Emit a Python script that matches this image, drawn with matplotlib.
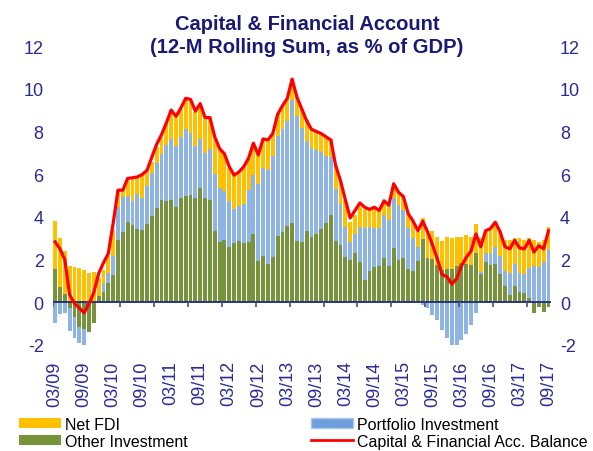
import matplotlib
matplotlib.use("Agg")
import matplotlib.pyplot as plt
import numpy as np
from matplotlib.patches import Patch
from matplotlib.lines import Line2D

plt.rcParams['font.family'] = ['Liberation Sans', 'DejaVu Sans']

# ---- data (12-M rolling sums, % of GDP), monthly Mar 2009 .. Sep 2017 ----
other = [1.56,0.73,0.40,-0.28,-0.67,-1.17,-1.25,-1.40,-0.95,0.30,
         0.50,0.92,1.30,2.90,3.30,3.75,3.60,3.45,3.40,3.65,
         4.05,4.42,4.81,4.74,4.81,4.47,4.89,4.98,5.02,4.89,
         5.37,4.86,4.81,3.36,2.83,2.90,2.60,2.76,2.87,2.79,
         2.80,3.18,1.93,2.18,1.79,2.10,3.10,3.30,3.57,3.69,
         2.87,2.83,3.33,3.04,3.22,3.43,3.69,4.11,2.87,2.68,
         2.10,1.98,2.29,1.87,1.04,1.46,1.64,1.71,2.09,1.70,
         2.52,2.00,2.06,1.56,1.46,1.93,2.96,2.09,2.02,1.74,
         1.50,1.56,1.56,1.71,1.82,1.78,1.74,2.29,1.31,1.90,
         1.74,1.78,1.31,0.78,0.34,0.78,0.47,0.42,0.22,-0.50,
         -0.20,-0.45,-0.20]

portfolio = [-0.95,-0.55,-0.51,-1.06,-1.01,-0.75,-0.75,0.00,0.00,0.00,
             0.40,0.45,0.85,1.55,1.65,1.25,1.15,1.60,1.50,1.80,
             2.02,2.08,2.12,2.61,2.85,2.85,2.85,3.15,2.92,2.43,
             2.26,2.15,2.36,2.67,2.53,2.30,2.14,1.63,1.65,1.81,
             2.45,2.80,3.63,4.11,4.39,4.75,4.69,4.80,4.90,5.76,
             5.85,5.33,4.21,4.19,3.90,3.61,3.16,2.70,2.43,1.92,
             1.44,0.85,0.93,1.67,2.45,2.08,1.86,1.78,1.99,2.15,
             2.34,2.55,2.25,1.94,1.53,0.67,-0.15,-0.25,-0.60,-0.85,
             -1.30,-1.65,-2.05,-2.10,-1.75,-1.50,-1.05,-0.50,0.12,0.39,
             0.50,0.82,0.86,0.68,1.02,1.00,0.89,0.89,1.37,1.71,
             1.67,1.87,2.45]

fdi = [2.24,2.27,2.01,1.71,1.64,1.62,1.51,1.36,1.43,0.82,
       0.60,0.80,1.25,0.80,0.35,0.70,1.00,0.80,1.05,0.70,
       0.50,0.77,0.81,1.01,1.33,1.31,1.33,1.43,1.51,1.59,
       1.67,1.62,1.46,1.67,1.84,1.75,1.56,1.56,1.53,1.75,
       1.48,1.45,1.32,1.37,1.44,1.05,1.04,1.12,1.06,1.02,
       0.89,0.91,0.98,0.90,0.88,0.86,0.89,0.82,1.10,1.07,
       1.24,0.94,0.86,0.93,0.90,0.77,0.94,0.82,0.66,0.70,
       0.70,0.62,0.69,0.66,0.78,0.70,1.00,1.21,1.31,1.33,
       1.37,1.51,1.43,1.36,1.25,1.37,1.33,1.37,1.59,1.01,
       1.14,1.01,1.16,1.45,1.55,1.21,1.63,1.60,1.40,1.20,
       1.13,1.04,1.09]

balance = [2.83,2.50,2.00,0.35,-0.05,-0.27,-0.49,-0.08,0.46,1.35,
           1.85,2.29,3.70,5.25,5.25,5.80,5.83,5.87,5.98,6.18,
           6.80,7.40,7.85,8.40,9.00,8.70,9.10,9.55,9.50,8.95,
           9.30,8.65,8.65,7.75,7.20,6.95,6.35,5.95,6.10,6.35,
           6.75,7.45,6.90,7.65,7.60,7.90,8.80,9.20,9.55,10.45,
           9.60,9.05,8.50,8.10,8.00,7.90,7.75,7.60,6.40,5.70,
           4.80,3.95,4.30,4.65,4.45,4.35,4.45,4.30,4.75,4.55,
           5.55,5.15,4.95,4.15,3.80,3.35,3.80,3.30,2.70,2.05,
           1.30,1.20,0.85,1.10,1.70,2.10,2.40,3.20,2.60,3.35,
           3.45,3.75,3.30,2.60,2.50,2.90,2.55,2.50,2.90,2.35,
           2.65,2.50,3.35]

tick_labels = ['03/09','09/09','03/10','09/10','03/11','09/11','03/12','09/12',
               '03/13','09/13','03/14','09/14','03/15','09/15','03/16','09/16',
               '03/17','09/17']
y_ticks = [-2, 0, 2, 4, 6, 8, 10, 12]

# ---- styling ----
C_FDI = '#FFC000'
C_PORT = '#8DB4E2'
C_OTHER = '#77933C'
C_LINE = '#FF0000'
C_TEXT = '#2B2B93'
C_TITLE = '#1A1A75'

W, H = 593, 452
fig = plt.figure(figsize=(W / 100, H / 100), dpi=100)
ax = fig.add_axes([52.7 / W, 1 - 346 / H, (550.9 - 52.7) / W, (346 - 47) / H])

n = len(other)
x = np.arange(n)
series = [(np.array(other), C_OTHER), (np.array(portfolio), C_PORT), (np.array(fdi), C_FDI)]
pos_base = np.zeros(n)
neg_base = np.zeros(n)
for vals, col in series:
    pos = np.where(vals > 0, vals, 0)
    neg = np.where(vals < 0, vals, 0)
    ax.bar(x, pos, bottom=pos_base, width=0.8, color=col, linewidth=0, zorder=2)
    ax.bar(x, neg, bottom=neg_base, width=0.8, color=col, linewidth=0, zorder=2)
    pos_base += pos
    neg_base += neg

ax.plot(x, balance, color=C_LINE, lw=2.3, zorder=4, solid_joinstyle='round')

# zero axis line and category tick marks (every 7 categories, Excel style)
ax.axhline(0, color='#1F2A7A', lw=1.3, zorder=3)
bounds = np.arange(-0.5, n, 7)
ax.vlines(bounds, -0.2, 0, color='#4A4A9A', lw=1.2, zorder=3)

ax.set_xlim(-0.5, n - 0.5)
ax.set_ylim(-2, 12)
for s in ax.spines.values():
    s.set_visible(False)

ax.set_xticks(np.arange(0, n, 6))
ax.set_xticklabels(tick_labels, rotation=90, fontsize=13, color=C_TEXT)
ax.tick_params(axis='x', length=0, pad=11)

ax.set_yticks(y_ticks)
ax.set_yticklabels([str(v) for v in y_ticks], fontsize=13, color=C_TEXT)
ax.tick_params(axis='y', left=False, right=False, labelleft=True, labelright=True,
               pad=3, labelsize=13, labelcolor=C_TEXT)
for t in ax.yaxis.get_major_ticks():
    t.tick2line.set_visible(False)
    t.label2.set_horizontalalignment('left')

# title
fig.text(307 / W, 1 - 30 / H, 'Capital & Financial Account', ha='center', va='baseline',
         fontsize=14.5, fontweight='bold', color=C_TITLE)
fig.text(307 / W, 1 - 53 / H, '(12-M Rolling Sum, as % of GDP)', ha='center', va='baseline',
         fontsize=14.5, fontweight='bold', color=C_TITLE)

# legends
h_fdi = Patch(facecolor=C_FDI, edgecolor='none')
h_other = Patch(facecolor=C_OTHER, edgecolor='none')
h_port = Patch(facecolor='#6F9EDC', edgecolor='#A9C6EC', linewidth=1)
h_line = Line2D([], [], color=C_LINE, lw=2)
kw = dict(frameon=False, fontsize=11.5, handlelength=2.6, handleheight=0.6,
          handletextpad=0.3, labelspacing=0.1, borderpad=0, borderaxespad=0,
          loc='upper left')
leg1 = fig.legend([h_fdi, h_other], ['Net FDI', 'Other Investment'],
                  bbox_to_anchor=(19 / W, 1 - 418 / H), **kw)
leg2 = fig.legend([h_port, h_line], ['Portfolio Investment', 'Capital & Financial Acc. Balance'],
                  bbox_to_anchor=(311 / W, 1 - 418 / H), **kw)

fig.savefig('out.png', dpi=100)
